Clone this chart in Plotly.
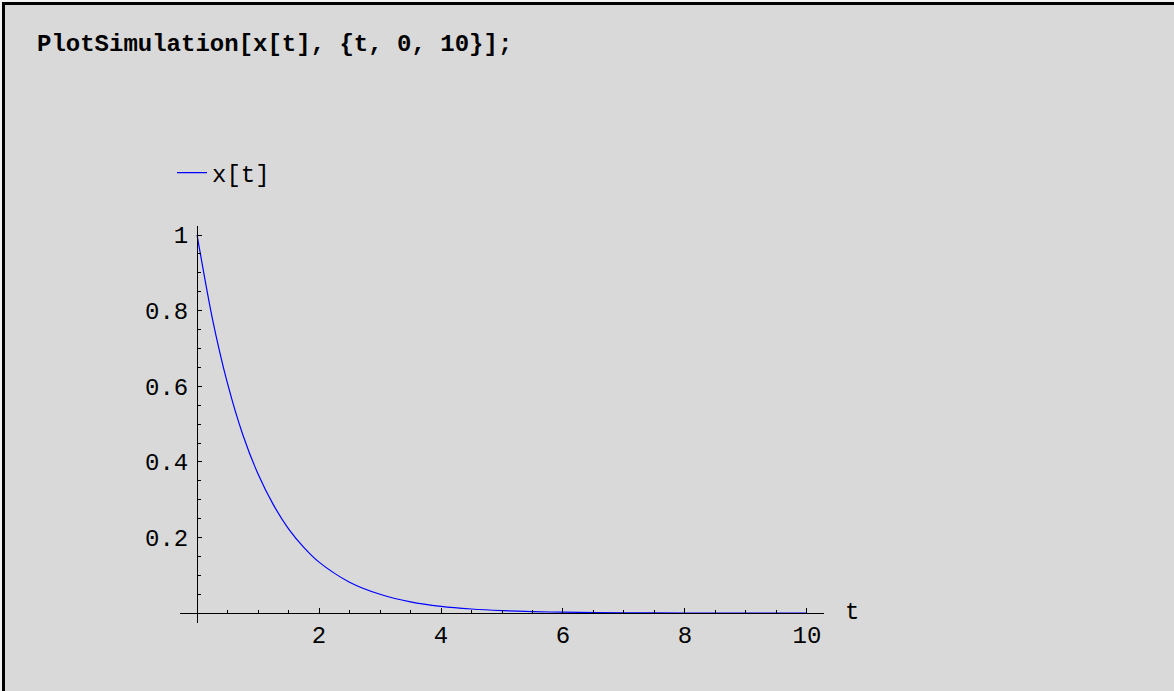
import plotly.graph_objects as go

# Data
t_values = [0, 0.25, 0.5, 0.75, 1, 1.25, 1.5, 1.75, 2, 2.5, 3, 3.5, 4, 4.5, 5, 5.5, 6, 7, 8, 9, 10]
x_values = [1.0, 0.78, 0.607, 0.472, 0.368, 0.287, 0.223, 0.174, 0.135, 0.082, 0.050, 0.030,
            0.018, 0.011, 0.0067, 0.0041, 0.0025, 0.0009, 0.0003, 0.0001, 0.00005]
x_tick_vals = [2, 4, 6, 8, 10]
x_tick_text = ["2", "4", "6", "8", "10"]
y_tick_vals = [0.2, 0.4, 0.6, 0.8, 1.0]
y_tick_text = ["0.2", "0.4", "0.6", "0.8", "1"]
series_name = "x[t]"
title_text = "<b>PlotSimulation[x[t], {t, 0, 10}];</b>"

W, H = 1174, 691
L, R, T, B = 180, 350, 226, 68
pw, ph = W - L - R, H - T - B
xr = [-0.28, 10.28]
yr = [-0.026, 1.024]

def px2paper_x(px):
    return (px - L) / pw

def py2paper_y(py):
    return (H - B - py) / ph

FONT = "Liberation Mono, Courier New, monospace"
BG = "#d9d9d9"

fig = go.Figure()
fig.add_trace(go.Scatter(
    x=t_values, y=x_values, mode="lines", name=series_name,
    line=dict(color="#0000ff", width=1.2, shape="spline", smoothing=0.8),
))

fig.update_layout(
    width=W, height=H,
    margin=dict(l=L, r=R, t=T, b=B, pad=0),
    paper_bgcolor=BG, plot_bgcolor=BG,
    font=dict(family=FONT, size=24, color="black"),
    showlegend=True,
    legend=dict(
        x=px2paper_x(172), y=py2paper_y(173), xanchor="left", yanchor="middle",
        bgcolor="rgba(0,0,0,0)", borderwidth=0,
        font=dict(family=FONT, size=24, color="black"),
    ),
    xaxis=dict(
        range=xr, domain=[0, 1], anchor="free", position=(0 - yr[0]) / (yr[1] - yr[0]),
        showgrid=False, zeroline=False, showline=True, linecolor="black", linewidth=1,
        ticks="inside", ticklen=5, tickwidth=1, tickcolor="black",
        tickvals=x_tick_vals, ticktext=x_tick_text,
        minor=dict(ticks="inside", ticklen=3, tickwidth=1, tickcolor="black", dtick=0.5, tick0=0, showgrid=False),
        tickfont=dict(family=FONT, size=24, color="black"),
    ),
    yaxis=dict(
        range=yr, domain=[0, 1], anchor="free", position=(0 - xr[0]) / (xr[1] - xr[0]),
        showgrid=False, zeroline=False, showline=True, linecolor="black", linewidth=1,
        ticks="inside", ticklen=4, tickwidth=1, tickcolor="black",
        tickvals=y_tick_vals, ticktext=y_tick_text, ticklabelstandoff=4,
        minor=dict(ticks="inside", ticklen=2.5, tickwidth=1, tickcolor="black", dtick=0.05, tick0=0, showgrid=False),
        tickfont=dict(family=FONT, size=24, color="black"),
    ),
)

# Title (input cell text) and axis label
fig.add_annotation(
    text=title_text, xref="paper", yref="paper",
    x=px2paper_x(35), y=py2paper_y(45), xanchor="left", yanchor="middle",
    showarrow=False, font=dict(family=FONT, size=24, color="black"),
)
fig.add_annotation(
    text="t", xref="paper", yref="paper",
    x=px2paper_x(852), y=py2paper_y(612), xanchor="center", yanchor="middle",
    showarrow=False, font=dict(family=FONT, size=24, color="black"),
)

# Cell frame (thin light edge, then black left and top border)
fig.add_shape(type="line", xref="paper", yref="paper",
              x0=px2paper_x(1), x1=px2paper_x(1), y0=py2paper_y(0), y1=py2paper_y(700),
              line=dict(color="#f2f2f2", width=2))
fig.add_shape(type="line", xref="paper", yref="paper",
              x0=px2paper_x(0), x1=px2paper_x(1180), y0=py2paper_y(1), y1=py2paper_y(1),
              line=dict(color="#f2f2f2", width=2))
fig.add_shape(type="line", xref="paper", yref="paper",
              x0=px2paper_x(3.5), x1=px2paper_x(3.5), y0=py2paper_y(2), y1=py2paper_y(700),
              line=dict(color="black", width=3))
fig.add_shape(type="line", xref="paper", yref="paper",
              x0=px2paper_x(2), x1=px2paper_x(1180), y0=py2paper_y(3.5), y1=py2paper_y(3.5),
              line=dict(color="black", width=3))

fig.write_html("out.html", config={"displayModeBar": False},
               post_script="document.body.style.margin='0';document.body.style.overflow='hidden';")
